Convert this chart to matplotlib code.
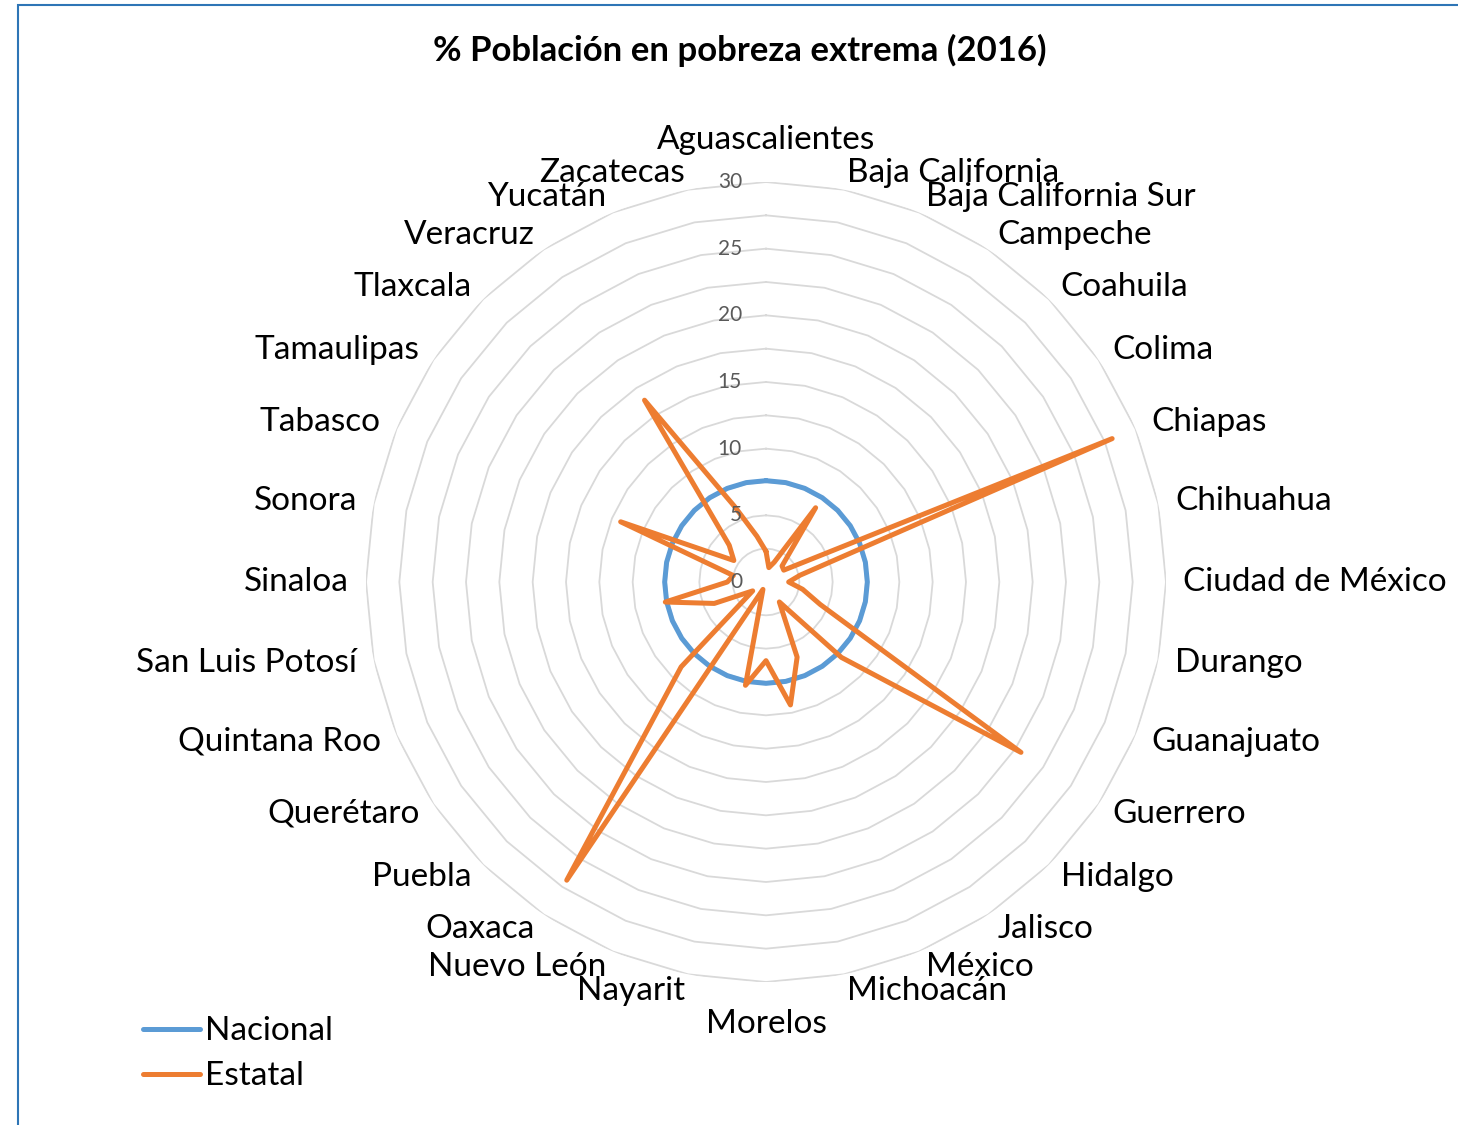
import matplotlib
matplotlib.use('Agg')
import matplotlib.pyplot as plt
import numpy as np
from matplotlib.patches import Rectangle

plt.rcParams['font.family'] = ['Lato', 'DejaVu Sans']

# Datos: % de población en pobreza extrema, 2016
estados = ['Aguascalientes', 'Baja California', 'Baja California Sur', 'Campeche',
           'Coahuila', 'Colima', 'Chiapas', 'Chihuahua', 'Ciudad de México',
           'Durango', 'Guanajuato', 'Guerrero', 'Hidalgo', 'Jalisco', 'México',
           'Michoacán', 'Morelos', 'Nayarit', 'Nuevo León', 'Oaxaca', 'Puebla',
           'Querétaro', 'Quintana Roo', 'San Luis Potosí', 'Sinaloa', 'Sonora',
           'Tabasco', 'Tamaulipas', 'Tlaxcala', 'Veracruz', 'Yucatán', 'Zacatecas']
estatal = [2.3, 1.1, 1.6, 6.7, 1.7, 1.6, 28.1, 2.6, 1.7, 2.8, 4.4, 23.0, 8.0, 1.8,
           6.1, 9.4, 5.9, 7.9, 0.6, 26.9, 9.0, 1.2, 4.2, 7.7, 2.9, 2.5, 11.8, 2.9,
           3.9, 16.4, 6.1, 3.5]
nacional = [7.6] * len(estados)
ticks = [0, 5, 10, 15, 20, 25, 30]

n = len(estados)
theta = np.arange(n) * 2 * np.pi / n
theta_c = np.append(theta, theta[0])

W, H = 1458, 1125
fig = plt.figure(figsize=(W / 100, H / 100), dpi=100)

# borde del área del gráfico
fig.patches.append(Rectangle((18 / W, -0.01), 1.02, 1 - 5 / H + 0.01, transform=fig.transFigure,
                             fill=False, edgecolor='#2E75B6', linewidth=1.5))

cx, cy, R = 766, 582, 400
ax = fig.add_axes([(cx - R) / W, 1 - (cy + R) / H, 2 * R / W, 2 * R / H], projection='polar')
ax.set_theta_zero_location('N')
ax.set_theta_direction(-1)
ax.set_ylim(0, 30)
ax.grid(False)
ax.spines['polar'].set_visible(False)
ax.set_xticks([])
ax.set_yticks([])
ax.patch.set_alpha(0)

# rejilla poligonal (sin radios)
for r in np.arange(2.5, 30.01, 2.5):
    ax.plot(theta_c, [r] * (n + 1), color='#D9D9D9', lw=1.3, zorder=1)

ax.plot(theta_c, nacional + nacional[:1], color='#5B9BD5', lw=3.6,
        solid_joinstyle='round', solid_capstyle='round', label='Nacional', zorder=3)
ax.plot(theta_c, estatal + estatal[:1], color='#ED7D31', lw=3.6,
        solid_joinstyle='round', solid_capstyle='round', label='Estatal', zorder=4)

for v in ticks:
    ax.annotate(str(v), xy=(0, v), xytext=(-24, 0), textcoords='offset pixels',
                ha='right', va='center', fontsize=15, color='#595959', zorder=5)

for t, name in zip(theta, estados):
    s, c = np.sin(t), np.cos(t)
    if abs(s) < 0.05:
        ha = 'center'
        off = (0, 42 * np.sign(c))
    else:
        ha = 'left' if s > 0 else 'right'
        off = (17 * s, 17 * c)
    ax.annotate(name, xy=(t, 30), xytext=off, textcoords='offset pixels',
                ha=ha, va='center', fontsize=24, color='black', annotation_clip=False)

fig.text(740 / W, 1 - 50 / H, '% Población en pobreza extrema (2016)', ha='center', va='center',
         fontsize=25, fontweight='bold')

fig.legend(loc='upper left', bbox_to_anchor=(120 / W, 1 - 993 / H), frameon=False,
           fontsize=24, handlelength=1.7, handletextpad=0.15, labelspacing=0.45,
           borderpad=0.2)

fig.savefig('out.png', dpi=100)
